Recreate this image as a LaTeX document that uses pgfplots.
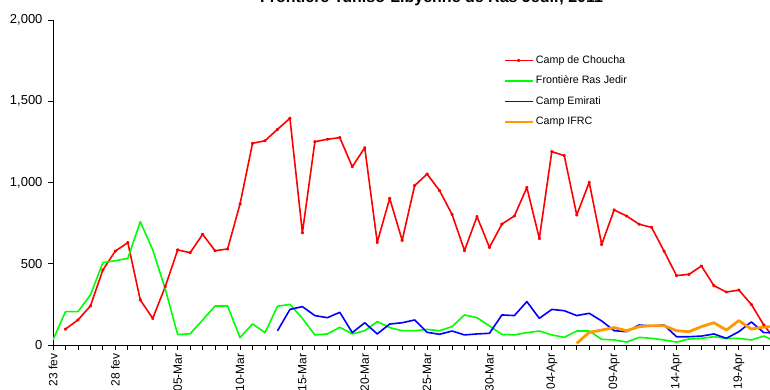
\documentclass[border=0pt]{standalone}
\usepackage{fontspec}
\setmainfont{Liberation Sans}
\usepackage{pgfplots}
\pgfplotsset{compat=1.18}
\definecolor{cred}{RGB}{255,0,0}
\definecolor{cgreen}{RGB}{0,255,0}
\definecolor{cblue}{RGB}{0,0,255}
\definecolor{corange}{RGB}{255,153,0}
\definecolor{cmag}{RGB}{255,0,255}
\begin{document}
\begin{tikzpicture}
\path[use as bounding box] (0,0) rectangle (770pt,390pt);
\clip (0,0) rectangle (770pt,390pt);
\node[anchor=base, font=\fontsize{16}{16}\selectfont\bfseries] at (431.5pt,387pt) {Frontière Tuniso-Libyenne de Ras Jedir, 2011};
\begin{axis}[
  at={(53pt,45pt)}, anchor=south west,
  scale only axis, width=760.67pt, height=325pt,
  xmin=0, xmax=61, ymin=0, ymax=2000,
  axis x line=bottom, axis y line=left,
  axis line style={-, line width=0.9pt, black},
  tick align=outside,
  major tick length=5pt, minor tick length=5pt,
  tick style={black, line width=0.8pt},
  minor tick style={black, line width=0.8pt},
  xtick={0,5,...,55},
  minor xtick={0,...,61},
  xticklabels={23 fev,28 fev,05-Mar,10-Mar,15-Mar,20-Mar,25-Mar,30-Mar,04-Apr,09-Apr,14-Apr,19-Apr},
  x tick label style={rotate=90, anchor=east, font=\fontsize{12}{12}\selectfont},
  ytick={0,500,1000,1500,2000},
  yticklabel style={font=\fontsize{13}{13}\selectfont, xshift=-2pt},
  scaled y ticks=false,
  /pgf/number format/1000 sep={,},
  /pgf/number format/assume math mode=true,
  legend cell align=left,
  legend style={draw=none, fill=none, at={(0.5876,0.9015)}, anchor=north west,
    font=\fontsize{10.7}{12}\selectfont, row sep=8pt, column sep=1pt,
    nodes={inner sep=1pt, text height=8pt, text depth=2.5pt}},
  legend image code/.code={\draw[#1, mark=none] (0pt,0pt) -- (28pt,0pt); \path[#1, draw=none] plot coordinates {(14pt,0pt)};},
]
\addplot[color=cred, line width=1.6pt, line join=round, mark=*, mark size=0.9pt, mark options={fill=cmag, draw=none, solid}] table {
x y
1 98
2 154
3 240
4 462
5 578
6 630
7 277
8 164
9 359
10 585
11 568
12 681
13 580
14 591
15 868
16 1241
17 1257
18 1327
19 1395
20 691
21 1251
22 1266
23 1276
24 1097
25 1214
26 632
27 902
28 644
29 981
30 1052
31 950
32 804
33 581
34 790
35 601
36 744
37 794
38 969
39 656
40 1190
41 1165
42 800
43 1001
44 619
45 831
46 794
47 743
48 724
49 578
50 427
51 435
52 486
53 365
54 326
55 338
56 250
57 123
58 25
};
\addlegendentry{Camp de Choucha}
\addplot[color=cgreen, line width=1.6pt, line join=round] table {
x y
0 31
1 205
2 205
3 308
4 507
5 519
6 533
7 759
8 585
9 345
10 64
11 69
12 154
13 240
14 240
15 45
16 130
17 76
18 238
19 250
20 164
21 62
22 68
23 109
24 68
25 88
26 144
27 107
28 88
29 88
30 96
31 88
32 113
33 185
34 168
35 117
36 65
37 62
38 76
39 86
40 62
41 47
42 86
43 86
44 35
45 31
46 18
47 47
48 41
49 31
50 18
51 37
52 41
53 51
54 41
55 41
56 31
57 55
58 20
};
\addlegendentry{Frontière Ras Jedir}
\addplot[color=cblue, line width=1.6pt, line join=round] table {
x y
18 87
19 219
20 236
21 181
22 168
23 201
24 76
25 137
26 68
27 129
28 137
29 154
30 78
31 66
32 86
33 62
34 68
35 72
36 185
37 181
38 267
39 164
40 219
41 211
42 181
43 195
44 148
45 88
46 82
47 123
48 117
49 123
50 51
51 51
52 55
53 68
54 41
55 82
56 142
57 76
58 76
};
\addlegendentry{Camp Emirati}
\addplot[color=corange, line width=2.8pt, line join=round] table {
x y
42 10
43 78
44 92
45 107
46 88
47 113
48 119
49 119
50 88
51 82
52 113
53 137
54 92
55 150
56 98
57 111
58 113
};
\addlegendentry{Camp IFRC}
\end{axis}
\end{tikzpicture}
\end{document}
